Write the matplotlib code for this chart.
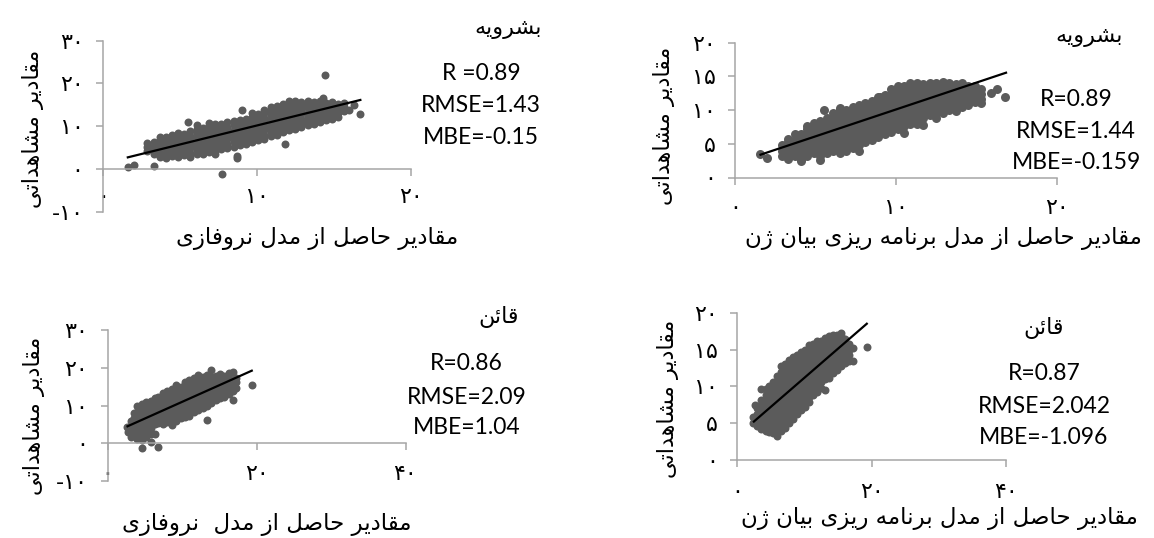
import matplotlib
matplotlib.use("Agg")
import matplotlib.pyplot as plt
from matplotlib.ticker import FuncFormatter

W, H = 1154, 538

# ---------------- text ----------------
title_bsh = "بشرویه"
title_qaen = "قائن"
ylab_obs = "مقادیر مشاهداتی"
xlab_nf = "مقادیر حاصل از مدل نروفازی"
xlab_nf2 = "مقادیر حاصل از مدل  نروفازی"
xlab_gep = "مقادیر حاصل از مدل برنامه ریزی بیان ژن"

# ---------------- panel A: Boshrooyeh, neuro-fuzzy ----------------
a_colx = [1.62, 2.05, 3.35, 7.73, 14.43, 14.33, 9.03, 5.52, 11.84, 8.75, 16.72, 16.3, 16.0,
          2.9, 3.3, 3.7, 4.1, 4.5, 4.9, 5.3, 5.7, 6.1, 6.5, 6.9, 7.3, 7.7, 8.1, 8.5, 8.9,
          9.3, 9.7, 10.1, 10.5, 10.9, 11.3, 11.7, 12.1, 12.5, 12.9, 13.3, 13.7, 14.1,
          14.5, 14.9, 15.3, 15.7]
a_coly = [[0.54], [0.94], [0.78], [-1.17], [22.0], [16.55], [13.8], [10.9], [5.78], [3.0, 2.6],
          [12.8], [15.0], [13.8],
          [4.2, 5.2, 6.0],
          [3.4, 4.4, 5.4, 6.4],
          [2.8, 3.8, 4.8, 5.8, 6.8, 7.5],
          [2.6, 3.6, 4.6, 5.6, 6.6, 7.4],
          [3.0, 4.0, 5.0, 6.0, 7.0, 7.9],
          [2.7, 3.7, 4.7, 5.7, 6.7, 7.6, 8.3],
          [3.2, 4.2, 5.2, 6.2, 7.2, 8.1],
          [2.8, 3.8, 4.8, 5.8, 6.8, 7.8, 8.8],
          [3.4, 4.4, 5.4, 6.4, 7.4, 8.4, 9.3, 10.2],
          [3.6, 4.6, 5.6, 6.6, 7.6, 8.6, 9.6],
          [4.0, 5.0, 6.0, 7.0, 8.0, 9.0, 10.0, 10.8],
          [3.4, 4.5, 5.5, 6.5, 7.5, 8.5, 9.5, 10.4],
          [4.6, 5.6, 6.6, 7.6, 8.6, 9.6, 10.6],
          [4.9, 5.9, 6.9, 7.9, 8.9, 9.9, 10.9],
          [5.2, 6.2, 7.2, 8.2, 9.2, 10.2, 11.2],
          [5.6, 6.6, 7.6, 8.6, 9.6, 10.6, 11.4],
          [5.8, 6.8, 7.8, 8.8, 9.8, 10.8, 11.8],
          [6.2, 7.2, 8.2, 9.2, 10.2, 11.2, 12.2, 13.0],
          [6.8, 7.8, 8.8, 9.8, 10.8, 11.8, 12.8],
          [7.0, 8.0, 9.0, 10.0, 11.0, 12.0, 13.0, 13.8],
          [7.6, 8.6, 9.6, 10.6, 11.6, 12.6, 13.6, 14.4],
          [8.0, 9.0, 10.0, 11.0, 12.0, 13.0, 14.0, 14.8],
          [8.6, 9.6, 10.6, 11.6, 12.6, 13.6, 14.6, 15.3],
          [9.0, 10.0, 11.0, 12.0, 13.0, 14.0, 15.0, 15.8],
          [9.4, 10.4, 11.4, 12.4, 13.4, 14.4, 15.4, 16.0],
          [9.8, 10.8, 11.8, 12.8, 13.8, 14.8, 15.7],
          [10.2, 11.2, 12.2, 13.2, 14.2, 15.2, 15.9],
          [10.6, 11.6, 12.6, 13.6, 14.6, 15.6],
          [11.0, 12.0, 13.0, 14.0, 15.0, 15.8],
          [11.4, 12.4, 13.4, 14.4, 15.4],
          [11.8, 12.8, 13.8, 14.8, 15.6],
          [12.2, 13.2, 14.2, 15.2],
          [13.6, 14.6, 15.4]]
a_line_x = [1.56, 16.8]
a_line_y = [2.65, 16.2]
a_stats = ["R =0.89", "RMSE=1.43", "MBE=-0.15"]

# ---------------- panel B: Boshrooyeh, gene expression programming ----------------
b_colx = [1.55, 1.97, 5.5, 9.0, 15.9, 16.3, 16.8,
          2.9, 3.3, 3.7, 4.1, 4.5, 4.9, 5.3, 5.7, 6.1, 6.5, 6.9, 7.3, 7.7, 8.1, 8.5, 8.9,
          9.3, 9.7, 10.1, 10.5, 10.9, 11.3, 11.7, 12.1, 12.5, 12.9, 13.3, 13.7, 14.1,
          14.5, 14.9, 15.3]
b_coly = [[3.5], [2.9], [10.0], [12.0], [12.6], [13.1], [11.9],
          [3.2, 4.0, 4.8],
          [2.8, 3.6, 4.4, 5.2, 5.7],
          [3.2, 4.0, 4.8, 5.6, 6.4],
          [2.4, 2.8, 3.6, 4.4, 5.2, 6.0, 6.5],
          [3.2, 4.0, 4.8, 5.6, 6.4, 7.2, 7.6],
          [3.6, 4.4, 5.2, 6.0, 6.8, 7.6, 8.1],
          [2.6, 3.2, 4.0, 4.8, 5.6, 6.4, 7.2, 8.0, 8.4],
          [3.6, 4.4, 5.2, 6.0, 6.8, 7.6, 8.4, 8.9],
          [4.0, 4.8, 5.6, 6.4, 7.2, 8.0, 8.8, 9.5],
          [3.6, 4.4, 5.2, 6.0, 6.8, 7.6, 8.4, 9.2, 10.0, 10.3],
          [4.0, 4.8, 5.6, 6.4, 7.2, 8.0, 8.8, 9.6, 10.0],
          [4.4, 5.2, 6.0, 6.8, 7.6, 8.4, 9.2, 10.0, 10.4],
          [4.0, 4.8, 5.6, 6.4, 7.2, 8.0, 8.8, 9.6, 10.4, 10.8],
          [5.2, 6.0, 6.8, 7.6, 8.4, 9.2, 10.0, 10.8, 11.0],
          [5.6, 6.4, 7.2, 8.0, 8.8, 9.6, 10.4, 11.2, 11.4],
          [6.0, 6.8, 7.6, 8.4, 9.2, 10.0, 10.8, 11.6, 12.0],
          [6.4, 7.2, 8.0, 8.8, 9.6, 10.4, 11.2, 12.0, 12.2],
          [6.8, 7.6, 8.4, 9.2, 10.0, 10.8, 11.6, 12.4, 13.2],
          [7.2, 8.0, 8.8, 9.6, 10.4, 11.2, 12.0, 12.8, 13.6],
          [6.6, 7.6, 8.4, 9.2, 10.0, 10.8, 11.6, 12.4, 13.2, 13.6],
          [8.0, 8.8, 9.6, 10.4, 11.2, 12.0, 12.8, 13.6, 14.0],
          [8.0, 8.4, 9.2, 10.0, 10.8, 11.6, 12.4, 13.2, 14.0],
          [7.8, 8.8, 9.6, 10.4, 11.2, 12.0, 12.8, 13.6, 13.9],
          [9.2, 10.0, 10.8, 11.6, 12.4, 13.2, 14.0],
          [8.8, 9.6, 10.4, 11.2, 12.0, 12.8, 13.6, 14.0],
          [9.6, 10.0, 10.8, 11.6, 12.4, 13.2, 14.0, 14.2],
          [10.0, 10.4, 11.2, 12.0, 12.8, 13.6, 14.0],
          [9.8, 10.8, 11.6, 12.4, 13.2, 13.9],
          [10.4, 11.2, 12.0, 12.8, 13.6, 14.0],
          [10.8, 11.6, 12.4, 13.2, 13.6],
          [11.2, 12.0, 12.8, 13.6],
          [11.1, 11.6, 12.4, 13.1]]
b_line_x = [1.52, 16.9]
b_line_y = [3.33, 15.6]
b_stats = ["R=0.89", "RMSE=1.44", "MBE=-0.159"]

# ---------------- panel C: Qaen, neuro-fuzzy ----------------
c_colx = [2.6, 2.8, 19.4,
          3.2, 3.6, 4.0, 4.6, 5.2, 5.9, 6.4, 6.8, 7.4, 8.0, 8.6, 9.2, 9.8, 10.4, 11.0,
          11.6, 12.2, 12.8, 13.3, 13.9, 14.5, 15.1, 15.7, 16.3, 16.8, 17.3]
c_coly = [[4.4], [3.1], [15.5],
          [1.8, 3.2, 4.6, 6.0],
          [2.4, 3.8, 5.2, 6.6, 8.0],
          [1.2, 2.8, 4.2, 5.6, 7.0, 8.4, 9.8],
          [-1.3, 0.8, 2.2, 3.6, 5.0, 6.4, 7.8, 9.2, 10.4],
          [1.6, 3.0, 4.4, 5.8, 7.2, 8.6, 10.0, 11.0],
          [0.4, 2.4, 4.2, 5.6, 7.0, 8.4, 9.8, 11.2],
          [2.6, 5.0, 6.4, 7.8, 9.2, 10.6, 12.0],
          [-1.1, 5.4, 6.8, 8.2, 9.6, 11.0, 12.4],
          [5.2, 6.6, 8.0, 9.4, 10.8, 12.2, 13.4],
          [5.6, 7.0, 8.4, 9.8, 11.2, 12.6, 13.8],
          [4.8, 6.2, 7.6, 9.0, 10.4, 11.8, 13.2, 14.4],
          [6.0, 7.4, 8.8, 10.2, 11.6, 13.0, 14.4, 15.5],
          [6.6, 8.0, 9.4, 10.8, 12.2, 13.6, 15.0],
          [7.0, 8.4, 9.8, 11.2, 12.6, 14.0, 15.4, 16.2],
          [7.2, 8.6, 10.0, 11.4, 12.8, 14.2, 15.6, 16.8],
          [8.2, 9.6, 11.0, 12.4, 13.8, 15.2, 16.6, 17.4],
          [8.8, 10.2, 11.6, 13.0, 14.4, 15.8, 17.2, 18.1],
          [9.4, 10.8, 12.2, 13.6, 15.0, 16.4, 17.6],
          [6.2, 10.0, 11.4, 12.8, 14.2, 15.6, 17.0, 18.2],
          [10.6, 12.0, 13.4, 14.8, 16.2, 17.6, 19.4],
          [11.5, 12.6, 14.0, 15.4, 16.8, 18.0],
          [12.0, 13.4, 14.8, 16.2, 17.6, 18.4],
          [12.4, 13.8, 15.2, 16.6, 17.8],
          [13.2, 14.6, 16.0, 17.4, 18.6],
          [11.5, 14.0, 15.4, 16.8, 18.8],
          [14.8, 16.2, 17.4]]
c_line_x = [2.55, 19.5]
c_line_y = [4.4, 19.4]
c_stats = ["R=0.86", "RMSE=2.09", "MBE=1.04"]

# ---------------- panel D: Qaen, gene expression programming ----------------
d_colx = [2.4, 2.6, 19.3,
          3.0, 3.6, 4.2, 4.7, 5.3, 5.9, 6.5, 7.1, 7.7, 8.3, 8.9, 9.5, 10.1, 10.7, 11.3,
          11.9, 12.5, 13.0, 13.6, 14.2, 14.8, 15.4, 16.0, 16.6, 17.2]
d_coly = [[5.0, 5.8], [7.5], [15.3],
          [4.6, 5.4, 6.2, 7.0],
          [4.2, 5.0, 5.8, 6.6, 7.4, 8.2, 9.7],
          [4.0, 4.8, 5.6, 6.4, 7.2, 8.0, 8.8, 9.6],
          [3.8, 4.6, 5.4, 6.2, 7.0, 7.8, 8.6, 9.4, 10.1],
          [3.6, 4.4, 5.2, 6.0, 6.8, 7.6, 8.4, 9.2, 10.0, 10.6],
          [3.2, 4.2, 5.0, 5.8, 6.6, 7.4, 8.2, 9.0, 9.8, 10.6, 11.4],
          [4.0, 4.8, 5.6, 6.4, 7.2, 8.0, 8.8, 9.6, 10.4, 11.2, 12.0, 12.7],
          [4.4, 5.2, 6.0, 6.8, 7.6, 8.4, 9.2, 10.0, 10.8, 11.6, 12.4, 13.0],
          [5.0, 5.8, 6.6, 7.4, 8.2, 9.0, 9.8, 10.6, 11.4, 12.2, 13.0, 13.6],
          [5.6, 6.4, 7.2, 8.0, 8.8, 9.6, 10.4, 11.2, 12.0, 12.8, 13.6, 14.0],
          [6.2, 7.0, 7.8, 8.6, 9.4, 10.2, 11.0, 11.8, 12.6, 13.4, 14.2],
          [6.8, 7.6, 8.4, 9.2, 10.0, 10.8, 11.6, 12.4, 13.2, 14.0, 14.6],
          [7.2, 8.0, 8.8, 9.6, 10.4, 11.2, 12.0, 12.8, 13.6, 14.4, 15.0],
          [7.9, 8.6, 9.4, 10.2, 11.0, 11.8, 12.6, 13.4, 14.2, 15.0, 15.6],
          [8.8, 9.6, 10.4, 11.2, 12.0, 12.8, 13.6, 14.4, 15.2, 15.8],
          [9.2, 10.0, 10.8, 11.6, 12.4, 13.2, 14.0, 14.8, 15.6, 16.2],
          [9.8, 10.6, 11.4, 12.2, 13.0, 13.8, 14.6, 15.4, 16.2],
          [9.5, 11.0, 11.8, 12.6, 13.4, 14.2, 15.0, 15.8, 16.6],
          [11.2, 12.0, 12.8, 13.6, 14.4, 15.2, 16.0, 16.8],
          [11.8, 12.6, 13.4, 14.2, 15.0, 15.8, 16.6, 17.0],
          [12.2, 13.0, 13.8, 14.6, 15.4, 16.2, 17.0],
          [12.8, 13.6, 14.4, 15.2, 16.0, 16.8, 17.2],
          [13.2, 14.0, 14.8, 15.6, 16.4],
          [13.4, 14.2, 15.0, 15.8],
          [13.5, 15.2]]
d_line_x = [2.34, 19.4]
d_line_y = [5.12, 18.6]
d_stats = ["R=0.87", "RMSE=2.042", "MBE=-1.096"]


# ---------------- Persian shaping (matplotlib has no complex text layout) ----------------
_FORMS = {  # isolated, final, initial, medial
    'ا': (0xFE8D, 0xFE8E, None, None),
    'ب': (0xFE8F, 0xFE90, 0xFE91, 0xFE92),
    'ت': (0xFE95, 0xFE96, 0xFE97, 0xFE98),
    'ح': (0xFEA1, 0xFEA2, 0xFEA3, 0xFEA4),
    'د': (0xFEA9, 0xFEAA, None, None),
    'ر': (0xFEAD, 0xFEAE, None, None),
    'ز': (0xFEAF, 0xFEB0, None, None),
    'ژ': (0x0698, 0xFB8B, None, None),
    'ش': (0xFEB5, 0xFEB6, 0xFEB7, 0xFEB8),
    'ص': (0xFEB9, 0xFEBA, 0xFEBB, 0xFEBC),
    'ف': (0xFED1, 0xFED2, 0xFED3, 0xFED4),
    'ق': (0xFED5, 0xFED6, 0xFED7, 0xFED8),
    'ل': (0xFEDD, 0xFEDE, 0xFEDF, 0xFEE0),
    'م': (0xFEE1, 0xFEE2, 0xFEE3, 0xFEE4),
    'ن': (0xFEE5, 0xFEE6, 0xFEE7, 0xFEE8),
    'ه': (0xFEE9, 0xFEEA, 0xFEEB, 0xFEEC),
    'و': (0xFEED, 0xFEEE, None, None),
    'ی': (0xFEEF, 0xFEF0, 0xFEF3, 0xFEF4),
    'ئ': (0xFE89, 0xFE8A, 0xFE8B, 0xFE8C),
}


def fa(s):
    out = []
    n = len(s)
    for i, ch in enumerate(s):
        if ch not in _FORMS:
            out.append(ch)
            continue
        prev = s[i - 1] if i > 0 else ''
        nxt = s[i + 1] if i < n - 1 else ''
        jp = prev in _FORMS and _FORMS[prev][2] is not None
        jn = _FORMS[ch][2] is not None and nxt in _FORMS
        iso, fin, ini, med = _FORMS[ch]
        if jp and jn:
            code = med
        elif jp:
            code = fin
        elif jn:
            code = ini
        else:
            code = iso
        out.append(chr(code))
    return ''.join(reversed(out))


_FA_DIGITS = str.maketrans('0123456789', '۰۱۲۳۴۵۶۷۸۹')


def fa_num(v, pos=None):
    v = int(round(v))
    s = str(abs(v)).translate(_FA_DIGITS)
    return ('-' + s) if v < 0 else s


def flatten(colx, coly):
    xs, ys = [], []
    for x, col in zip(colx, coly):
        for y in col:
            xs.append(x)
            ys.append(y)
    return xs, ys


FA_FONT = ['DejaVu Sans']
NUM_FONT = ['Lato', 'DejaVu Sans']
AXIS_GRAY = '#a6a6a6'
PT_COLOR = '#5b5b5b'

fig = plt.figure(figsize=(W / 100, H / 100), dpi=100)
fig.patch.set_facecolor('white')


def panel(rect_px, xlim, ylim, xticks, yticks, xpad, colx, coly, lx, ly, msize=33):
    l, r, t, b = rect_px
    ax = fig.add_axes([l / W, 1 - b / H, (r - l) / W, (b - t) / H])
    ax.set_xlim(*xlim)
    ax.set_ylim(*ylim)
    ax.patch.set_visible(False)
    for s in ('top', 'right'):
        ax.spines[s].set_visible(False)
    ax.spines['bottom'].set_position(('data', 0))
    for s in ('left', 'bottom'):
        ax.spines[s].set_color(AXIS_GRAY)
        ax.spines[s].set_linewidth(1.1)
    ax.set_xticks(xticks)
    ax.set_yticks(yticks)
    ax.xaxis.set_major_formatter(FuncFormatter(fa_num))
    ax.yaxis.set_major_formatter(FuncFormatter(fa_num))
    ax.tick_params(direction='out', length=4.8, width=1.1, color=AXIS_GRAY,
                   labelcolor='black', labelsize=16)
    ax.tick_params(axis='x', pad=xpad)
    ax.tick_params(axis='y', pad=9)
    for lab in ax.get_xticklabels() + ax.get_yticklabels():
        lab.set_family(FA_FONT)
    xs, ys = flatten(colx, coly)
    ax.scatter(xs, ys, s=msize, c=PT_COLOR, linewidths=0, zorder=2, clip_on=False)
    ax.plot(lx, ly, color='black', lw=1.6, zorder=3, solid_capstyle='butt')
    return ax


def ftext(cx, cy, s, size, family, rot=0):
    fig.text(cx / W, 1 - cy / H, s, ha='center', va='center', fontsize=size,
             family=family, rotation=rot, color='black')


# Panel A (top-left)
panel((102.7, 410.7, 40.7, 211.7), (0, 20), (-10, 30), [0, 10, 20], [-10, 0, 10, 20, 30],
      8, a_colx, a_coly, a_line_x, a_line_y)
# Panel B (top-right)
panel((735, 1057, 42.7, 177.5), (0, 20), (0, 20), [0, 10, 20], [0, 5, 10, 15, 20],
      10, b_colx, b_coly, b_line_x, b_line_y, msize=42)
# Panel C (bottom-left)
panel((107.5, 405.5, 330.3, 481), (0, 40), (-10, 30), [0, 20, 40], [-10, 0, 10, 20, 30],
      10, c_colx, c_coly, c_line_x, c_line_y)
# Panel D (bottom-right)
panel((737.3, 1006, 312.7, 460), (0, 40), (0, 20), [0, 20, 40], [0, 5, 10, 15, 20],
      11, d_colx, d_coly, d_line_x, d_line_y)

# titles
ftext(508, 29, fa(title_bsh), 16, FA_FONT)
ftext(1089, 37, fa(title_bsh), 16, FA_FONT)
ftext(499, 317, fa(title_qaen), 16, FA_FONT)
ftext(1044, 328, fa(title_qaen), 16, FA_FONT)

# statistics
for (cx, ys), st in [((481, (73.5, 106, 137)), a_stats),
                     ((1076, (100, 132, 163)), b_stats),
                     ((466.5, (363, 397.5, 427.5)), c_stats),
                     ((1044, (373, 406.5, 438)), d_stats)]:
    for y, s in zip(ys, st):
        ftext(cx, y, s, 16.5, NUM_FONT)

# axis labels
ftext(33, 129, fa(ylab_obs), 16, FA_FONT, rot=90)
ftext(664, 126, fa(ylab_obs), 16, FA_FONT, rot=90)
ftext(34, 416, fa(ylab_obs), 16, FA_FONT, rot=90)
ftext(668, 399, fa(ylab_obs), 16, FA_FONT, rot=90)

ftext(317.5, 238, fa(xlab_nf), 16.5, FA_FONT)
ftext(943.5, 238, fa(xlab_gep), 16.5, FA_FONT)
ftext(266.5, 525, fa(xlab_nf2), 16.5, FA_FONT)
ftext(939, 518, fa(xlab_gep), 16.5, FA_FONT)

fig.savefig('out.png', dpi=100, facecolor='white')
